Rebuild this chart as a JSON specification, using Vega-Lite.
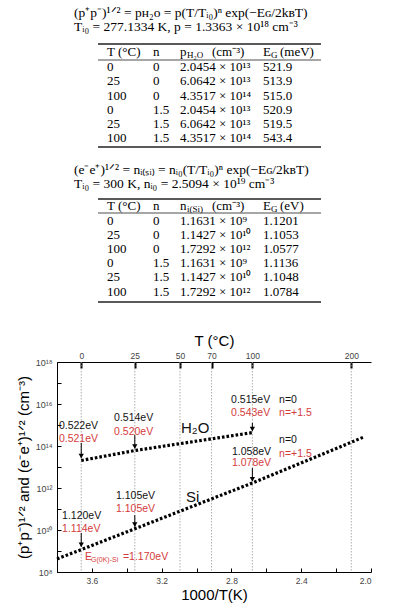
{
  "$schema": "https://vega.github.io/schema/vega-lite/v6.json",
  "background": "white",
  "padding": {"left": 16, "top": 0, "right": 0, "bottom": 0},
  "spacing": 28,
  "config": {"view": {"stroke": null}, "font": "Liberation Sans"},
  "vconcat": [
    {
      "width": 300,
      "height": 305,
      "data": {"values": [
        {"r": 0, "c": 0, "k": "f", "t": "(p⁺p⁻)¹ᐟ²  =  pʜ₂ᴏ  =  p(T/Tᵢ₀)ⁿ  exp(−Eɢ/2kʙT)"},
        {"r": 1, "c": 0, "k": "f", "t": "Tᵢ₀ = 277.1334 K, p = 1.3363 × 10¹⁸  cm⁻³"},
        {"r": 2, "c": 1, "c2": 10, "k": "rule"},
        {"r": 3, "c": 2, "k": "cell", "t": "T (°C)"},
        {"r": 3, "c": 3, "k": "cell", "t": "n"},
        {"r": 3, "c": 4, "k": "cell", "t": "p"},
        {"r": 3, "c": 5, "k": "sub", "t": "H₂O"},
        {"r": 3, "c": 6, "k": "cell", "t": "(cm⁻³)"},
        {"r": 3, "c": 7, "k": "cell", "t": "E"},
        {"r": 3, "c": 8, "k": "sub", "t": "G"},
        {"r": 3, "c": 9, "k": "cell", "t": "(meV)"},
        {"r": 4, "c": 1, "c2": 10, "k": "thin"},
        {"r": 5, "c": 2, "k": "cell", "t": "0"}, {"r": 5, "c": 3, "k": "cell", "t": "0"}, {"r": 5, "c": 4, "k": "cell", "t": "2.0454 × 10¹³"}, {"r": 5, "c": 7, "k": "cell", "t": "521.9"},
        {"r": 6, "c": 2, "k": "cell", "t": "25"}, {"r": 6, "c": 3, "k": "cell", "t": "0"}, {"r": 6, "c": 4, "k": "cell", "t": "6.0642 × 10¹³"}, {"r": 6, "c": 7, "k": "cell", "t": "513.9"},
        {"r": 7, "c": 2, "k": "cell", "t": "100"}, {"r": 7, "c": 3, "k": "cell", "t": "0"}, {"r": 7, "c": 4, "k": "cell", "t": "4.3517 × 10¹⁴"}, {"r": 7, "c": 7, "k": "cell", "t": "515.0"},
        {"r": 8, "c": 2, "k": "cell", "t": "0"}, {"r": 8, "c": 3, "k": "cell", "t": "1.5"}, {"r": 8, "c": 4, "k": "cell", "t": "2.0454 × 10¹³"}, {"r": 8, "c": 7, "k": "cell", "t": "520.9"},
        {"r": 9, "c": 2, "k": "cell", "t": "25"}, {"r": 9, "c": 3, "k": "cell", "t": "1.5"}, {"r": 9, "c": 4, "k": "cell", "t": "6.0642 × 10¹³"}, {"r": 9, "c": 7, "k": "cell", "t": "519.5"},
        {"r": 10, "c": 2, "k": "cell", "t": "100"}, {"r": 10, "c": 3, "k": "cell", "t": "1.5"}, {"r": 10, "c": 4, "k": "cell", "t": "4.3517 × 10¹⁴"}, {"r": 10, "c": 7, "k": "cell", "t": "543.4"},
        {"r": 11, "c": 1, "c2": 10, "k": "rule"},
        {"r": 12, "c": 0, "k": "f", "t": "(e⁻e⁺)¹ᐟ²  =  nᵢ₍ₛᵢ₎  =  nᵢ₀(T/Tᵢ₀)ⁿ  exp(−Eɢ/2kʙT)"},
        {"r": 13, "c": 0, "k": "f", "t": "Tᵢ₀ = 300 K, nᵢ₀ = 2.5094 × 10¹⁹  cm⁻³"},
        {"r": 14, "c": 1, "c2": 10, "k": "rule"},
        {"r": 15, "c": 2, "k": "cell", "t": "T (°C)"},
        {"r": 15, "c": 3, "k": "cell", "t": "n"},
        {"r": 15, "c": 4, "k": "cell", "t": "n"},
        {"r": 15, "c": 5, "k": "sub", "t": "i(Si)"},
        {"r": 15, "c": 6, "k": "cell", "t": "(cm⁻³)"},
        {"r": 15, "c": 7, "k": "cell", "t": "E"},
        {"r": 15, "c": 8, "k": "sub", "t": "G"},
        {"r": 15, "c": 9, "k": "cell", "t": "(eV)"},
        {"r": 16, "c": 1, "c2": 10, "k": "thin"},
        {"r": 17, "c": 2, "k": "cell", "t": "0"}, {"r": 17, "c": 3, "k": "cell", "t": "0"}, {"r": 17, "c": 4, "k": "cell", "t": "1.1631 × 10⁹"}, {"r": 17, "c": 7, "k": "cell", "t": "1.1201"},
        {"r": 18, "c": 2, "k": "cell", "t": "25"}, {"r": 18, "c": 3, "k": "cell", "t": "0"}, {"r": 18, "c": 4, "k": "cell", "t": "1.1427 × 10¹⁰"}, {"r": 18, "c": 7, "k": "cell", "t": "1.1053"},
        {"r": 19, "c": 2, "k": "cell", "t": "100"}, {"r": 19, "c": 3, "k": "cell", "t": "0"}, {"r": 19, "c": 4, "k": "cell", "t": "1.7292 × 10¹²"}, {"r": 19, "c": 7, "k": "cell", "t": "1.0577"},
        {"r": 20, "c": 2, "k": "cell", "t": "0"}, {"r": 20, "c": 3, "k": "cell", "t": "1.5"}, {"r": 20, "c": 4, "k": "cell", "t": "1.1631 × 10⁹"}, {"r": 20, "c": 7, "k": "cell", "t": "1.1136"},
        {"r": 21, "c": 2, "k": "cell", "t": "25"}, {"r": 21, "c": 3, "k": "cell", "t": "1.5"}, {"r": 21, "c": 4, "k": "cell", "t": "1.1427 × 10¹⁰"}, {"r": 21, "c": 7, "k": "cell", "t": "1.1048"},
        {"r": 22, "c": 2, "k": "cell", "t": "100"}, {"r": 22, "c": 3, "k": "cell", "t": "1.5"}, {"r": 22, "c": 4, "k": "cell", "t": "1.7292 × 10¹²"}, {"r": 22, "c": 7, "k": "cell", "t": "1.0784"},
        {"r": 23, "c": 1, "c2": 10, "k": "rule"}
      ]},
      "encoding": {
        "x": {"field": "c", "type": "quantitative", "axis": null,
              "scale": {"domain": [0, 1, 2, 3, 4, 5, 6, 7, 8, 9, 10], "range": [17, 41, 50, 96, 123, 130, 155, 206, 214, 223, 264], "nice": false, "zero": false}},
        "y": {"field": "r", "type": "quantitative", "axis": null,
              "scale": {"domain": [0, 1, 2, 3, 4, 5, 6, 7, 8, 9, 10, 11, 12, 13, 14, 15, 16, 17, 18, 19, 20, 21, 22, 23], "range": [13, 27, 44, 52, 60, 67, 81, 96, 110, 124, 138, 147, 170, 184, 199, 206, 213, 221, 235, 249, 263, 277, 292, 302], "nice": false, "zero": false}}
      },
      "layer": [
        {"transform": [{"filter": "datum.k == 'rule'"}], "mark": {"type": "rule", "strokeWidth": 1.5, "color": "#222"}, "encoding": {"x2": {"field": "c2"}}},
        {"transform": [{"filter": "datum.k == 'thin'"}], "mark": {"type": "rule", "strokeWidth": 0.8, "color": "#222"}, "encoding": {"x2": {"field": "c2"}}},
        {"transform": [{"filter": "datum.k == 'f'"}], "mark": {"type": "text", "align": "left", "baseline": "middle", "font": "Liberation Serif", "fontSize": 13.5, "color": "#000"}, "encoding": {"text": {"field": "t"}}},
        {"transform": [{"filter": "datum.k == 'cell'"}], "mark": {"type": "text", "align": "left", "baseline": "middle", "font": "Liberation Serif", "fontSize": 13, "color": "#000"}, "encoding": {"text": {"field": "t"}}},
        {"transform": [{"filter": "datum.k == 'sub'"}], "mark": {"type": "text", "align": "left", "baseline": "middle", "font": "Liberation Serif", "fontSize": 9, "dy": 3, "color": "#000"}, "encoding": {"text": {"field": "t"}}}
      ]
    },
    {
      "width": 314,
      "height": 210,
      "layer": [
        {
          "data": {"values": [{"T": 0, "x": 3.661}, {"T": 25, "x": 3.354}, {"T": 50, "x": 3.095}, {"T": 70, "x": 2.914}, {"T": 100, "x": 2.68}, {"T": 200, "x": 2.113}]},
          "mark": {"type": "rule", "color": "#999", "strokeDash": [1.5, 1.5], "strokeWidth": 0.8},
          "encoding": {
            "x": {"field": "x", "type": "quantitative",
                  "scale": {"domain": [2.0, 3.8], "reverse": true, "nice": false, "zero": false},
                  "axis": {"orient": "top", "values": [3.661, 3.354, 3.095, 2.914, 2.68, 2.113],
                           "labelExpr": "'' + round(1000/datum.value - 273.15)",
                           "title": "T (°C)", "titleFontSize": 15, "titleFontWeight": "normal", "titlePadding": 3,
                           "tickSize": -6, "tickWidth": 2, "tickColor": "#000", "domainColor": "#000",
                           "labelFontSize": 8.5, "labelColor": "#444", "labelPadding": 8, "grid": false}}
          }
        },
        {
          "data": {"values": [
            {"s": "H2O", "x": 3.661, "y": 2.0454e13}, {"s": "H2O", "x": 3.354, "y": 6.0642e13}, {"s": "H2O", "x": 2.68, "y": 4.3517e14},
            {"s": "Si", "x": 3.8, "y": 4.2e8}, {"s": "Si", "x": 3.661, "y": 1.1631e9}, {"s": "Si", "x": 3.354, "y": 1.1427e10}, {"s": "Si", "x": 2.68, "y": 1.7292e12}, {"s": "Si", "x": 2.04, "y": 2.7e14}
          ]},
          "mark": {"type": "line", "color": "#000", "strokeWidth": 3.2, "strokeDash": [2.6, 2]},
          "encoding": {
            "detail": {"field": "s"},
            "x": {"field": "x", "type": "quantitative",
                  "axis": {"orient": "bottom", "values": [3.8, 3.6, 3.4, 3.2, 3.0, 2.8, 2.6, 2.4, 2.2, 2.0],
                           "labelExpr": "round(datum.value*10) % 4 == 0 ? format(datum.value, '.1f') : ''",
                           "title": "1000/T(K)", "titleFontSize": 15, "titleFontWeight": "normal", "titlePadding": 3,
                           "tickSize": -4, "tickColor": "#000", "domainColor": "#000",
                           "labelFontSize": 8.5, "labelColor": "#444", "labelPadding": 8, "grid": false}},
            "y": {"field": "y", "type": "quantitative",
                  "scale": {"type": "log", "domain": [1e8, 1e18], "nice": false},
                  "axis": {"orient": "left", "values": [1e8, 1e9, 1e10, 1e11, 1e12, 1e13, 1e14, 1e15, 1e16, 1e17, 1e18],
                           "labelExpr": "round(log(datum.value)/LN10) % 2 == 0 ? '10' + replace(replace(replace(replace(replace(replace('' + round(log(datum.value)/LN10), '1', '¹'), '0', '⁰'), '2', '²'), '4', '⁴'), '6', '⁶'), '8', '⁸') : ''",
                           "title": "(p⁺p⁻)¹ᐟ² and (e⁻e⁺)¹ᐟ² (cm⁻³)", "titleFontSize": 15, "titleFontWeight": "normal", "titlePadding": 4,
                           "tickSize": -4, "tickColor": "#000", "domainColor": "#000",
                           "labelFontSize": 9, "labelColor": "#444", "labelPadding": 9, "grid": false}}
          }
        },
        {
          "data": {"values": [
            {"x": 3.661, "from": 1.4e14, "to": 2.7e13}, {"x": 3.354, "from": 3.3e14, "to": 7.6e13}, {"x": 2.68, "from": 1.26e15, "to": 5.2e14},
            {"x": 3.661, "from": 7.2e9, "to": 1.6e9}, {"x": 3.354, "from": 5.1e10, "to": 1.45e10}, {"x": 2.68, "from": 8.9e12, "to": 2.1e12}
          ]},
          "layer": [
            {
              "mark": {"type": "rule", "color": "#000", "strokeWidth": 1},
              "encoding": {
                "x": {"field": "x", "type": "quantitative", "axis": null},
                "y": {"field": "from", "type": "quantitative",
                      "axis": {"orient": "right", "values": [1e8, 1e9, 1e10, 1e11, 1e12, 1e13, 1e14, 1e15, 1e16, 1e17, 1e18],
                               "labels": false, "title": null, "tickSize": -4, "tickColor": "#000", "domainColor": "#000", "grid": false}},
                "y2": {"field": "to"}
              }
            },
            {
              "mark": {"type": "point", "shape": "triangle-down", "filled": true, "color": "#000", "size": 28, "opacity": 1, "yOffset": -2},
              "encoding": {
                "x": {"field": "x", "type": "quantitative", "axis": null},
                "y": {"field": "to", "type": "quantitative", "axis": null}
              }
            }
          ]
        },
        {
          "data": {"values": [
            {"x": 3.789, "y": 8.9e14, "t": "0.522eV", "g": "n0"},
            {"x": 3.789, "y": 2.1e14, "t": "0.521eV", "g": "n15"},
            {"x": 3.473, "y": 2.1e15, "t": "0.514eV", "g": "n0"},
            {"x": 3.473, "y": 4.7e14, "t": "0.520eV", "g": "n15"},
            {"x": 2.802, "y": 1.55e16, "t": "0.515eV", "g": "n0"},
            {"x": 2.527, "y": 1.55e16, "t": "n=0", "g": "n0"},
            {"x": 2.802, "y": 3.7e15, "t": "0.543eV", "g": "n15"},
            {"x": 2.527, "y": 3.7e15, "t": "n=+1.5", "g": "n15"},
            {"x": 2.527, "y": 1.9e14, "t": "n=0", "g": "n0"},
            {"x": 2.527, "y": 4.2e13, "t": "n=+1.5", "g": "n15"},
            {"x": 2.797, "y": 5.1e13, "t": "1.058eV", "g": "n0"},
            {"x": 2.797, "y": 1.55e13, "t": "1.078eV", "g": "n15"},
            {"x": 3.462, "y": 4.2e11, "t": "1.105eV", "g": "n0"},
            {"x": 3.462, "y": 1.0e11, "t": "1.105eV", "g": "n15"},
            {"x": 3.771, "y": 4.7e10, "t": "1.120eV", "g": "n0"},
            {"x": 3.771, "y": 1.12e10, "t": "1.114eV", "g": "n15"},
            {"x": 3.639, "y": 5.1e8, "t": "E", "g": "n15"},
            {"x": 3.422, "y": 5.1e8, "t": "=1.170eV", "g": "n15"}
          ]},
          "mark": {"type": "text", "align": "left", "baseline": "middle", "fontSize": 10.5, "font": "Liberation Sans"},
          "encoding": {
            "x": {"field": "x", "type": "quantitative", "axis": null},
            "y": {"field": "y", "type": "quantitative", "axis": null},
            "text": {"field": "t"},
            "color": {"field": "g", "type": "nominal", "legend": null, "scale": {"domain": ["n0", "n15"], "range": ["#111111", "#d43b3b"]}}
          }
        },
        {
          "data": {"values": [{"x": 3.605, "y": 3.7e8, "t": "G(0K)-Si"}]},
          "mark": {"type": "text", "align": "left", "baseline": "middle", "fontSize": 7, "font": "Liberation Sans", "color": "#d43b3b"},
          "encoding": {
            "x": {"field": "x", "type": "quantitative", "axis": null},
            "y": {"field": "y", "type": "quantitative", "axis": null},
            "text": {"field": "t"}
          }
        },
        {
          "data": {"values": [{"x": 3.089, "y": 7.2e14, "t": "H₂O"}, {"x": 3.06, "y": 3.7e11, "t": "Si"}]},
          "mark": {"type": "text", "align": "left", "baseline": "middle", "fontSize": 15, "font": "Liberation Sans", "color": "#111"},
          "encoding": {
            "x": {"field": "x", "type": "quantitative", "axis": null},
            "y": {"field": "y", "type": "quantitative", "axis": null},
            "text": {"field": "t"}
          }
        }
      ]
    }
  ]
}
